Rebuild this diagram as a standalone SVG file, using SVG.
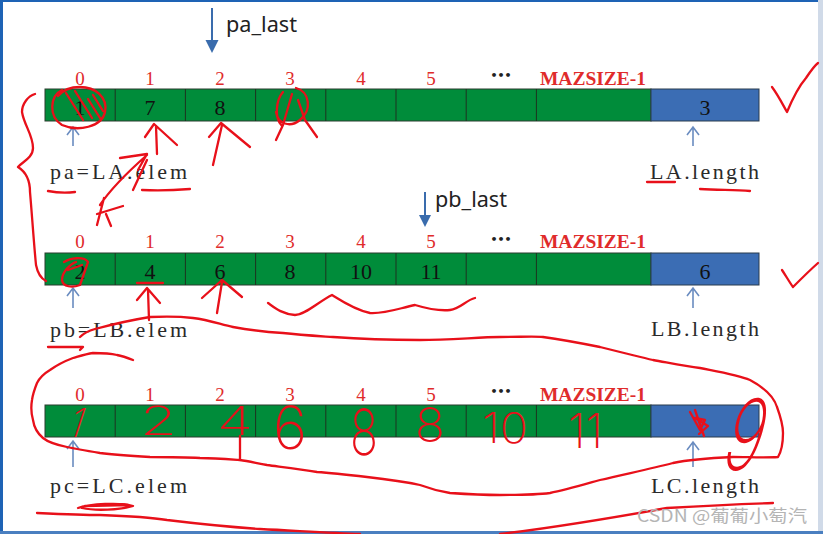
<svg xmlns="http://www.w3.org/2000/svg" width="823" height="534" viewBox="0 0 823 534">
<defs>
<style>
.g{fill:#008c3a;stroke:#2b3d2e;stroke-width:1}
.b{fill:#3b6db4;stroke:#2b3d4e;stroke-width:1}
.div{stroke:#1d3320;stroke-width:1}
.idx{font-family:"Liberation Serif",serif;font-size:19px;fill:#e02b2b;text-anchor:middle}
.max{font-family:"Liberation Serif",serif;font-size:19px;font-weight:bold;fill:#e02b2b}
.dots{font-family:"DejaVu Sans",sans-serif;font-size:11px;font-weight:bold;fill:#222;text-anchor:middle}
.val{font-family:"Liberation Serif",serif;font-size:22px;fill:#111;text-anchor:middle}
.lbl{font-family:"Liberation Serif",serif;font-size:22px;fill:#2a2a2a}
.ptr{font-family:"Noto Sans","Liberation Sans",sans-serif;font-size:21px;fill:#222}
.pa{stroke:#6a8cc0;stroke-width:1.6;fill:none}
.pl{stroke:#3a6cad;stroke-width:2;fill:none}
.ink{stroke:#e8101a;stroke-width:2.3;fill:none;stroke-linecap:round;stroke-linejoin:round}
.hw{font-family:Inter,Lato,"DejaVu Sans",sans-serif;font-weight:200;fill:#e8101a}
</style>
</defs>
<rect x="0" y="0" width="823" height="534" fill="#ffffff"/>
<rect x="0" y="0" width="823" height="2" fill="#1e63b5"/>
<rect x="0" y="0" width="3" height="534" fill="#1e63b5"/>
<rect x="818" y="0" width="5" height="534" fill="#d0dae8"/>
<rect x="0" y="531" width="823" height="3" fill="#4a7fc0"/>

<g id="arrayA">
<rect class="g" x="45" y="89" width="606" height="32"/>
<rect class="b" x="651" y="89" width="108" height="32"/>
<path class="div" d="M115.2 89V121M185.4 89V121M255.6 89V121M325.8 89V121M396 89V121M466.2 89V121M536.4 89V121"/>
<text class="idx" x="80" y="85">0</text><text class="idx" x="150" y="85">1</text><text class="idx" x="220" y="85">2</text><text class="idx" x="290" y="85">3</text><text class="idx" x="361" y="85">4</text><text class="idx" x="431" y="85">5</text>
<text class="dots" x="501" y="79">•••</text>
<text class="max" x="540" y="85" textLength="106" lengthAdjust="spacingAndGlyphs">MAZSIZE-1</text>
<text class="val" x="80" y="115">1</text><text class="val" x="150" y="115">7</text><text class="val" x="220" y="115">8</text>
<text class="val" x="705" y="115">3</text>
<text class="lbl" x="50" y="179" textLength="137" lengthAdjust="spacing">pa=LA.elem</text>
<text class="lbl" x="650" y="179" textLength="109" lengthAdjust="spacing">LA.length</text>
</g>

<g id="arrayB">
<rect class="g" x="45" y="253" width="606" height="32"/>
<rect class="b" x="651" y="253" width="108" height="32"/>
<path class="div" d="M115.2 253V285M185.4 253V285M255.6 253V285M325.8 253V285M396 253V285M466.2 253V285M536.4 253V285"/>
<text class="idx" x="80" y="248">0</text><text class="idx" x="150" y="248">1</text><text class="idx" x="220" y="248">2</text><text class="idx" x="290" y="248">3</text><text class="idx" x="361" y="248">4</text><text class="idx" x="431" y="248">5</text>
<text class="dots" x="501" y="243">•••</text>
<text class="max" x="540" y="248" textLength="106" lengthAdjust="spacingAndGlyphs">MAZSIZE-1</text>
<text class="val" x="80" y="279">2</text><text class="val" x="150" y="279">4</text><text class="val" x="220" y="279">6</text><text class="val" x="290" y="279">8</text><text class="val" x="361" y="279">10</text><text class="val" x="431" y="279">11</text>
<text class="val" x="705" y="279">6</text>
<text class="lbl" x="50" y="337" textLength="137" lengthAdjust="spacing">pb=LB.elem</text>
<text class="lbl" x="651" y="336" textLength="108" lengthAdjust="spacing">LB.length</text>
</g>

<g id="arrayC">
<rect class="g" x="45" y="405" width="606" height="32"/>
<rect class="b" x="651" y="405" width="108" height="32"/>
<path class="div" d="M115.2 405V437M185.4 405V437M255.6 405V437M325.8 405V437M396 405V437M466.2 405V437M536.4 405V437"/>
<text class="idx" x="80" y="401">0</text><text class="idx" x="150" y="401">1</text><text class="idx" x="220" y="401">2</text><text class="idx" x="290" y="401">3</text><text class="idx" x="361" y="401">4</text><text class="idx" x="431" y="401">5</text>
<text class="dots" x="501" y="395">•••</text>
<text class="max" x="540" y="401" textLength="106" lengthAdjust="spacingAndGlyphs">MAZSIZE-1</text>
<text class="lbl" x="50" y="493" textLength="137" lengthAdjust="spacing">pc=LC.elem</text>
<text class="lbl" x="651" y="493" textLength="108" lengthAdjust="spacing">LC.length</text>
</g>

<g id="pointers">
<text class="ptr" x="226" y="32" textLength="71" lengthAdjust="spacingAndGlyphs">pa_last</text>
<text class="ptr" x="435" y="207" textLength="72" lengthAdjust="spacingAndGlyphs">pb_last</text>
</g>

<g id="connectors">
<path class="pl" d="M212 8V42"/><path d="M205.5 40H218.5L212 53Z" fill="#3a6cad"/>
<path class="pl" d="M425 192V216"/><path d="M419 215H431L425 227Z" fill="#3a6cad"/>
<path class="pa" d="M73 146V127M67 135L73 127L79 135"/>
<path class="pa" d="M693 146V127M687 135L693 127L699 135"/>
<path class="pa" d="M73 308V288M67 296L73 288L79 296"/>
<path class="pa" d="M693 308V288M687 296L693 288L699 296"/>
<path class="pa" d="M73 467V441M67 449L73 441L79 449"/>
<path class="pa" d="M693 467V442M687 450L693 442L699 450"/>
</g>

<g id="annotations">
<path class="ink" d="M62 90C50 96 48 116 62 125C78 132 102 127 105 112C108 97 95 87 80 87C71 87 63 90 58 96M66 93L83 120M75 91L92 118M88 99L100 118M93 95L103 111"/>
<path class="ink" d="M157 154L156 126M145 137L154 124L177 145"/>
<path class="ink" d="M209 137L221 123L250 147M222 125L213 165"/>
<path class="ink" d="M283 92C276 100 274 118 282 126M296 88C310 92 312 110 300 120C290 128 278 124 276 112M292 94L283 125L276 140M298 100L305 120L317 137"/>
<path class="ink" d="M35 94C28 96 22 104 22 112C24 125 33 135 33 148C33 158 22 162 18 167C26 172 30 180 30 192C32 215 34 245 36 265C38 275 42 279 46 281"/>
<path class="ink" d="M120 158L147 154L138 170M100 205C110 190 130 170 147 155M133 190L147 160M97 225L104 198M97 214L123 206M106 214L111 226"/>
<path class="ink" d="M48 191C58 193 68 193 75 192M142 190C160 191 178 190 190 189M647 182L675 182M700 189C720 190 735 190 750 191"/>
<path class="ink" d="M772 87C778 95 783 105 787 112C792 100 800 85 806 78C810 72 814 66 818 63"/>
<path class="ink" d="M64 262C70 258 84 256 88 262L80 285C72 288 63 287 62 280C62 272 70 264 76 262M68 270L82 265"/>
<path class="ink" d="M137 283L163 283M137 300L147 288L160 303M148 290L149 320"/>
<path class="ink" d="M202 298L222 280L242 297M222 282L217 313"/>
<path class="ink" d="M268 303C275 308 282 314 295 315C305 315 318 302 332 295C340 300 355 310 370 313C385 314 400 308 415 305C425 308 440 311 450 310C460 309 466 300 475 298"/>
<path class="ink" d="M782 270C786 276 790 283 793 287C800 280 810 270 818 263"/>
<path class="ink" d="M48 347L83 347L80 350"/>
<path class="ink" d="M80 337C84 333 88 331 95 329C110 325 125 321 150 317C170 316 185 317 193 318C210 320 222 325 233 327C250 330 266 332 283 333C300 335 318 336 333 337C360 339 390 340 420 340C450 340 480 337 500 337C520 337 535 336 543 337C565 340 585 344 600 347C620 352 640 357 653 360C670 363 685 366 700 368C720 372 738 375 750 380C765 388 774 397 777 407C781 418 783 426 783 433C783 443 781 452 778 457C765 458 748 457 733 457C712 458 692 459 673 463C650 469 625 474 600 480C582 485 565 490 550 493C535 495 518 495 500 495C480 495 465 494 450 493C438 491 428 488 420 485C402 481 385 479 367 477C350 475 333 473 317 472C300 469 282 467 267 465C256 463 248 461 240 460C226 459 213 458 200 458C183 457 166 457 150 457C133 456 116 455 100 453C88 451 76 449 67 447C57 445 48 442 43 438C37 433 34 427 33 420C31 413 31 406 32 400C33 393 35 388 37 383C40 377 45 373 50 370C57 365 65 361 73 358C80 356 86 354 93 353C101 353 109 353 117 355C123 356 128 358 133 360"/>
<path class="ink" d="M240 436L240 460"/>
<path class="ink" d="M37 513C60 514 85 515 100 515C130 516 155 518 167 520C200 524 230 527 260 529C300 531 333 533 360 534M500 534C550 528 600 520 667 508C700 506 740 504 773 503"/>
<path class="ink" d="M78 508C90 504 120 502 133 506C120 510 95 511 82 508M85 506L128 505"/>
<path class="ink" d="M690 412L700 430L705 420L695 418L708 426L699 434M695 410L704 436"/>
<text class="hw" x="66" y="437" font-size="40" textLength="14" lengthAdjust="spacingAndGlyphs" transform="translate(73,437) skewX(-18) translate(-73,-437)">1</text>
<text class="hw" x="140" y="435" font-size="40" textLength="37" lengthAdjust="spacingAndGlyphs">2</text>
<text class="hw" x="217" y="435" font-size="40" textLength="36" lengthAdjust="spacingAndGlyphs">4</text>
<text class="hw" x="273" y="449" font-size="60" textLength="34" lengthAdjust="spacingAndGlyphs">6</text>
<text class="hw" x="350" y="455" font-size="64" textLength="28" lengthAdjust="spacingAndGlyphs">8</text>
<text class="hw" x="415" y="442" font-size="47" textLength="30" lengthAdjust="spacingAndGlyphs">8</text>
<text class="hw" x="482" y="443" font-size="42" textLength="46" lengthAdjust="spacingAndGlyphs">10</text>
<text class="hw" x="568" y="448" font-size="48" textLength="35" lengthAdjust="spacingAndGlyphs">11</text>
<text class="hw" x="718" y="470" font-size="98" textLength="38" lengthAdjust="spacingAndGlyphs" transform="translate(736,470) skewX(-16) translate(-736,-470)">9</text>
</g>

<text x="637" y="522" font-family="'Noto Sans CJK SC','Noto Sans',sans-serif" font-size="17" fill="#b4b4b4" textLength="170" lengthAdjust="spacingAndGlyphs">CSDN @葡葡小萄汽</text>
</svg>
